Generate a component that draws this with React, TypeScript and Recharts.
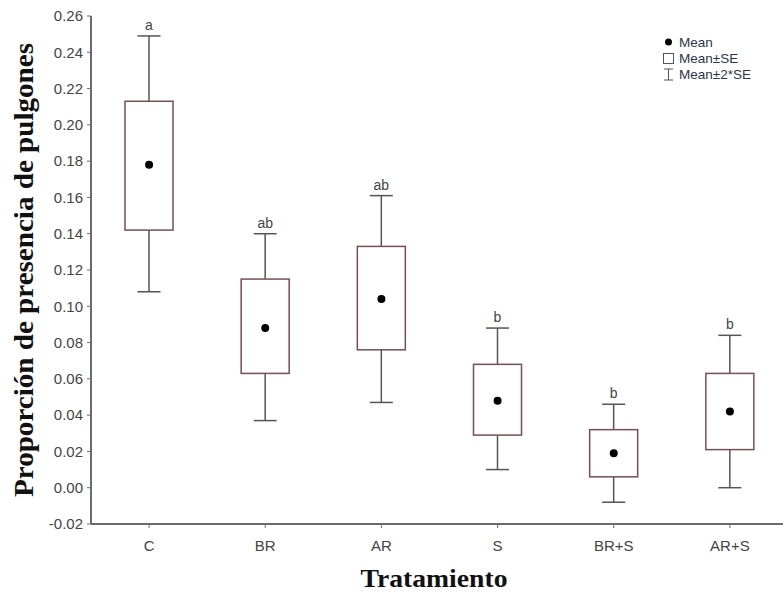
import { Bar, ComposedChart, LabelList, Scatter, XAxis, YAxis } from "recharts";

const categories = ["C", "BR", "AR", "S", "BR+S", "AR+S"];
const means = [0.178, 0.088, 0.104, 0.048, 0.019, 0.042];
const seLow = [0.142, 0.063, 0.076, 0.029, 0.006, 0.021];
const seHigh = [0.213, 0.115, 0.133, 0.068, 0.032, 0.063];
const se2Low = [0.108, 0.037, 0.047, 0.01, -0.008, 0.0];
const se2High = [0.249, 0.14, 0.161, 0.088, 0.046, 0.084];
const letters = ["a", "ab", "ab", "b", "b", "b"];
const yTicks = [-0.02, 0, 0.02, 0.04, 0.06, 0.08, 0.1, 0.12, 0.14, 0.16, 0.18, 0.2, 0.22, 0.24, 0.26];

const data = categories.map((name, i) => ({
  name,
  mean: means[i],
  boxLo: seLow[i],
  boxHi: seHigh[i],
  whisker: [se2Low[i], se2High[i]],
  letter: letters[i],
}));

const BOX_STROKE = "#7a4d54";
const WHISKER = "#555";
const AXIS = "#6b6b6b";
const TICK_FONT = "'Liberation Sans', Arial, sans-serif";
const TITLE_FONT = "'Liberation Serif', 'Times New Roman', serif";

function BoxShape(props: any) {
  const { x, y, width, height, payload } = props;
  const [lo, hi] = payload.whisker;
  const toPx = (v: number) => y + ((hi - v) / (hi - lo)) * height;
  const cx = x + width / 2;
  const boxW = 48;
  const capW = 23;
  const top = toPx(payload.boxHi);
  const bottom = toPx(payload.boxLo);
  return (
    <g>
      <line x1={cx} x2={cx} y1={y} y2={top} stroke={WHISKER} strokeWidth={1.5} />
      <line x1={cx} x2={cx} y1={bottom} y2={y + height} stroke={WHISKER} strokeWidth={1.5} />
      <line x1={cx - capW / 2} x2={cx + capW / 2} y1={y} y2={y} stroke={WHISKER} strokeWidth={1.5} />
      <line
        x1={cx - capW / 2}
        x2={cx + capW / 2}
        y1={y + height}
        y2={y + height}
        stroke={WHISKER}
        strokeWidth={1.5}
      />
      <rect
        x={cx - boxW / 2}
        y={top}
        width={boxW}
        height={bottom - top}
        fill="#fff"
        stroke={BOX_STROKE}
        strokeWidth={1.5}
      />
    </g>
  );
}

function LegendBox() {
  const text = { fontFamily: TICK_FONT, fontSize: 13.5, fill: "#2b3847" };
  return (
    <svg width={120} height={50} style={{ position: "absolute", left: 661, top: 35 }}>
      <circle cx={7.5} cy={7} r={3.5} fill="#000" />
      <text x={18} y={12} {...text}>Mean</text>
      <rect x={2.5} y={18.5} width={10} height={10} fill="none" stroke="#555" strokeWidth={1} />
      <text x={18} y={28} {...text}>Mean±SE</text>
      <line x1={7.5} x2={7.5} y1={34} y2={45} stroke="#555" strokeWidth={1} />
      <line x1={3} x2={12} y1={34} y2={34} stroke="#555" strokeWidth={1} />
      <line x1={3} x2={12} y1={45} y2={45} stroke="#555" strokeWidth={1} />
      <text x={18} y={44} {...text}>Mean±2*SE</text>
    </svg>
  );
}

export default function App() {
  return (
    <div
      style={{
        position: "absolute",
        left: 0,
        top: 0,
        width: 783,
        height: 594,
        overflow: "hidden",
        background: "#fff",
      }}
    >
      <ComposedChart width={790} height={594} data={data} margin={{ top: 16, right: 2, bottom: 40, left: 40 }}>
        <XAxis
          dataKey="name"
          axisLine={{ stroke: AXIS, strokeWidth: 2 }}
          tickLine={{ stroke: AXIS }}
          tickSize={4}
          tickMargin={12}
          tick={{ fontFamily: TICK_FONT, fontSize: 15, fill: "#444" }}
          height={30}
          label={() => (
            <text
              x={434}
              y={587}
              textAnchor="middle"
              fontFamily={TITLE_FONT}
              fontWeight="bold"
              fontSize={25}
              textLength={147}
              lengthAdjust="spacingAndGlyphs"
              fill="#111"
            >
              Tratamiento
            </text>
          )}
        />
        <YAxis
          type="number"
          domain={[-0.02, 0.26]}
          ticks={yTicks}
          interval={0}
          width={51}
          axisLine={{ stroke: AXIS, strokeWidth: 2 }}
          tickLine={{ stroke: AXIS }}
          tickSize={4}
          tickMargin={4}
          tickFormatter={(v: number) => v.toFixed(2)}
          tick={{ fontFamily: TICK_FONT, fontSize: 15, fill: "#444" }}
          label={() => (
            <text
              x={33}
              y={270}
              transform="rotate(-90 33 270)"
              textAnchor="middle"
              fontFamily={TITLE_FONT}
              fontWeight="bold"
              fontSize={27}
              textLength={454}
              lengthAdjust="spacingAndGlyphs"
              fill="#111"
            >
              Proporción de presencia de pulgones
            </text>
          )}
        />
        <Bar dataKey="whisker" shape={<BoxShape />} isAnimationActive={false} barSize={48}>
          <LabelList
            dataKey="letter"
            position="top"
            offset={6}
            style={{ fontFamily: TICK_FONT, fontSize: 14, fill: "#444" }}
          />
        </Bar>
        <Scatter
          dataKey="mean"
          fill="#000"
          isAnimationActive={false}
          shape={(p: any) => <circle cx={p.cx} cy={p.cy} r={4} fill="#000" />}
        />
      </ComposedChart>
      <LegendBox />
    </div>
  );
}
